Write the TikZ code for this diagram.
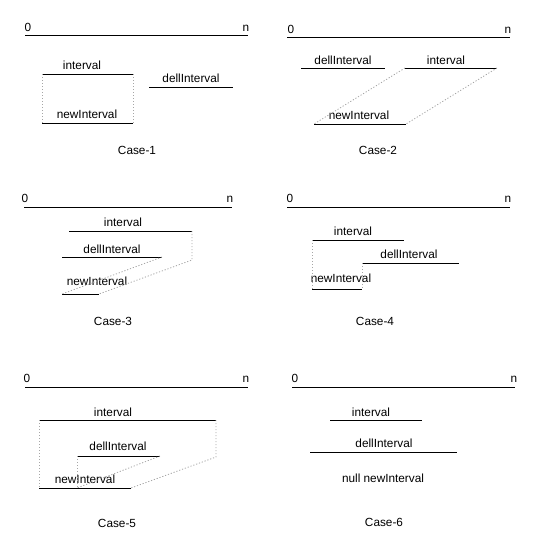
\documentclass[tikz,border=0pt]{standalone}
\usepackage{fontspec}
\setmainfont{Liberation Sans}
\usetikzlibrary{calc, positioning}

\tikzset{
    axisline/.style={line width=1pt,black},
    spanline/.style={line width=1pt,black},
    guideline/.style={line width=0.8pt,black!35,dash pattern=on 1.2pt off 1.8pt},
    tag/.style={inner sep=0pt,font=\fontsize{11.8}{13}\selectfont},
}

\begin{document}
\begin{tikzpicture}[x=1pt,y=-1pt]
\useasboundingbox (0,0) rectangle (542,543);

% Case-1
\coordinate (AxisOneL) at (25,36);
\coordinate (AxisOneR) at (248,36);
\coordinate (IntOneL) at (42,74);
\coordinate (IntOneR) at (133,74);
\coordinate (DelOneL) at (149,87);
\coordinate (DelOneR) at (233,87);
\coordinate (NewOneL) at (42,123);
\coordinate (NewOneR) at (133,123);
\draw[axisline] (AxisOneL) -- (AxisOneR);
\node[tag] (ZeroOne) at (28,27) {0};
\node[tag] (EndOne) at (246,28) {n};
\draw[spanline] (IntOneL) -- (IntOneR);
\node[tag] (IntOne) at (82,65) {interval};
\draw[spanline] (DelOneL) -- (DelOneR);
\node[tag] (DelOne) at (191,78) {dellInterval};
\draw[spanline] (NewOneL) -- (NewOneR);
\node[tag] (NewOne) at (87,114) {newInterval};
\draw[guideline] (IntOneL) -- (NewOneL);
\draw[guideline] (IntOneR) -- (NewOneR);
\node[tag] (CaseOne) at (137,150) {Case-1};

% Case-2
\coordinate (AxisTwoL) at (287,38);
\coordinate (AxisTwoR) at (510,38);
\coordinate (DelTwoL) at (301,68);
\coordinate (DelTwoR) at (385,68);
\coordinate (IntTwoL) at (405,68);
\coordinate (IntTwoR) at (497,68);
\coordinate (NewTwoL) at (314,124);
\coordinate (NewTwoR) at (406,124);
\draw[axisline] (AxisTwoL) -- (AxisTwoR);
\node[tag] (ZeroTwo) at (291,29) {0};
\node[tag] (EndTwo) at (508,30) {n};
\draw[spanline] (DelTwoL) -- (DelTwoR);
\node[tag] (DelTwo) at (343,60) {dellInterval};
\draw[spanline] (IntTwoL) -- (IntTwoR);
\node[tag] (IntTwo) at (446,60) {interval};
\draw[spanline] (NewTwoL) -- (NewTwoR);
\node[tag] (NewTwo) at (359,115) {newInterval};
\draw[guideline] (IntTwoL) -- (NewTwoL);
\draw[guideline] (IntTwoR) -- (NewTwoR);
\node[tag] (CaseTwo) at (378,150) {Case-2};

% Case-3
\coordinate (AxisThreeL) at (24,207);
\coordinate (AxisThreeR) at (232,207);
\coordinate (IntThreeL) at (69,231);
\coordinate (IntThreeR) at (192,231);
\coordinate (DelThreeL) at (62,257);
\coordinate (DelThreeR) at (162,257);
\coordinate (NewThreeL) at (62,294);
\coordinate (NewThreeR) at (99,294);
\coordinate (BendThree) at (192,260);
\draw[axisline] (AxisThreeL) -- (AxisThreeR);
\node[tag] (ZeroThree) at (25,198) {0};
\node[tag] (EndThree) at (230,199) {n};
\draw[spanline] (IntThreeL) -- (IntThreeR);
\node[tag] (IntThree) at (123,222) {interval};
\draw[spanline] (DelThreeL) -- (DelThreeR);
\node[tag] (DelThree) at (112,249) {dellInterval};
\draw[spanline] (NewThreeL) -- (NewThreeR);
\node[tag] (NewThree) at (97,281) {newInterval};
\draw[guideline] (IntThreeR) -- (BendThree) -- (NewThreeR);
\draw[guideline] (DelThreeR) -- (NewThreeL);
\node[tag] (CaseThree) at (113,321) {Case-3};

% Case-4
\coordinate (AxisFourL) at (287,207);
\coordinate (AxisFourR) at (510,207);
\coordinate (IntFourL) at (312,240);
\coordinate (IntFourR) at (404,240);
\coordinate (DelFourL) at (362,263);
\coordinate (DelFourR) at (459,263);
\coordinate (NewFourL) at (312,289);
\coordinate (NewFourR) at (362,289);
\draw[axisline] (AxisFourL) -- (AxisFourR);
\node[tag] (ZeroFour) at (290,198) {0};
\node[tag] (EndFour) at (508,199) {n};
\draw[spanline] (IntFourL) -- (IntFourR);
\node[tag] (IntFour) at (353,231) {interval};
\draw[spanline] (DelFourL) -- (DelFourR);
\node[tag] (DelFour) at (409,254) {dellInterval};
\draw[spanline] (NewFourL) -- (NewFourR);
\node[tag] (NewFour) at (341,278) {newInterval};
\draw[guideline] (IntFourL) -- (NewFourL);
\draw[guideline] (DelFourL) -- (NewFourR);
\node[tag] (CaseFour) at (375,321) {Case-4};

% Case-5
\coordinate (AxisFiveL) at (25,387);
\coordinate (AxisFiveR) at (248,387);
\coordinate (IntFiveL) at (39,420);
\coordinate (IntFiveR) at (216,420);
\coordinate (DelFiveL) at (77,456);
\coordinate (DelFiveR) at (160,456);
\coordinate (NewFiveL) at (39,488);
\coordinate (NewFiveR) at (131,488);
\coordinate (BendFive) at (216,457);
\coordinate (FootFive) at (77,488);
\draw[axisline] (AxisFiveL) -- (AxisFiveR);
\node[tag] (ZeroFive) at (27,378) {0};
\node[tag] (EndFive) at (246,379) {n};
\draw[spanline] (IntFiveL) -- (IntFiveR);
\node[tag] (IntFive) at (113,412) {interval};
\draw[spanline] (DelFiveL) -- (DelFiveR);
\node[tag] (DelFive) at (118,446) {dellInterval};
\draw[spanline] (NewFiveL) -- (NewFiveR);
\node[tag] (NewFive) at (85,479) {newInterval};
\draw[guideline] (IntFiveL) -- (NewFiveL);
\draw[guideline] (DelFiveL) -- (FootFive);
\draw[guideline] (IntFiveR) -- (BendFive) -- (NewFiveR);
\draw[guideline] (DelFiveR) -- (FootFive);
\node[tag] (CaseFive) at (117,523) {Case-5};

% Case-6
\coordinate (AxisSixL) at (292,387);
\coordinate (AxisSixR) at (515,387);
\coordinate (IntSixL) at (330,420);
\coordinate (IntSixR) at (422,420);
\coordinate (DelSixL) at (310,452);
\coordinate (DelSixR) at (457,452);
\draw[axisline] (AxisSixL) -- (AxisSixR);
\node[tag] (ZeroSix) at (295,378) {0};
\node[tag] (EndSix) at (514,379) {n};
\draw[spanline] (IntSixL) -- (IntSixR);
\node[tag] (IntSix) at (371,412) {interval};
\draw[spanline] (DelSixL) -- (DelSixR);
\node[tag] (DelSix) at (384,443) {dellInterval};
\node[tag] (NewSix) at (383,478) {null newInterval};
\node[tag] (CaseSix) at (384,522) {Case-6};
\end{tikzpicture}
\end{document}
